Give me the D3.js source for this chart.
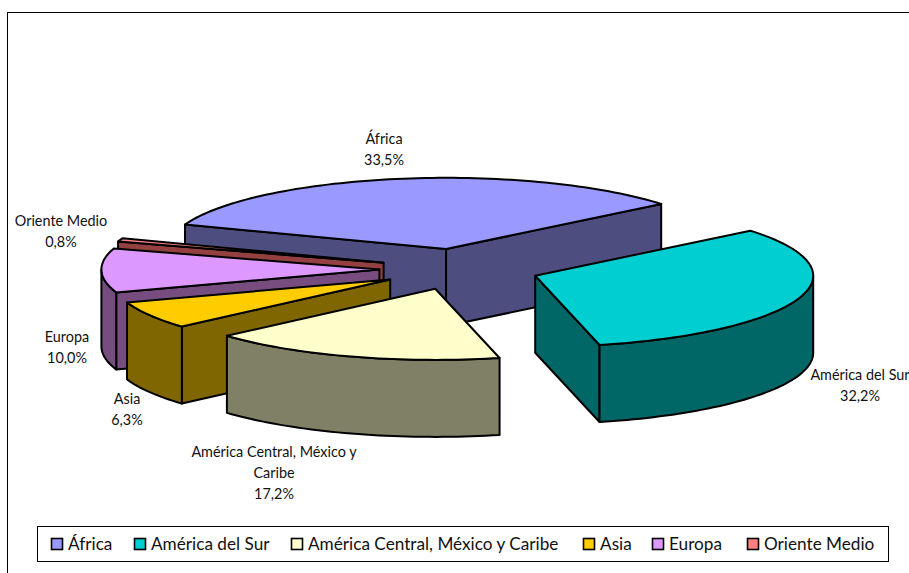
<!DOCTYPE html>
<html><head><meta charset="utf-8">
<style>html,body{margin:0;padding:0;background:#fff;overflow:hidden}svg{display:block}text{font-family:Lato,"Open Sans",sans-serif;fill:#111}</style>
<script src="https://cdn.jsdelivr.net/npm/d3@7/dist/d3.min.js"></script></head>
<body><svg id="c" width="909" height="573"></svg>
<script>
const categories = ["África","América del Sur","América Central, México y Caribe","Asia","Europa","Oriente Medio"];
const values = [33.5,32.2,17.2,6.3,10.0,0.8];
const topColors = ["#9999FF","#00CED1","#FFFFCC","#FFCC00","#DD99FF","#FF8080"];
const sideColors = ["#4D4D80","#006666","#808066","#806600","#774D80","#944040"];
const drawOrder = [0,1,5,4,3,2];
const labelLines = [["África","33,5%"],["América del Sur","32,2%"],["América Central, México y","Caribe","17,2%"],["Asia","6,3%"],["Europa","10,0%"],["Oriente Medio","0,8%"]];
const labelAnchors = [[384,144],[860,380],[274,457],[127,404],[67,342],[61,226]];
const legendSwatchX = [51,134,291,583,652,747];

const rad = d => d*Math.PI/180;
const cx=459.4, cy=269.2, R=278, K=0.256, DEPTH=77, EXPLODE=80;
const svg = d3.select("#c");
const slices = d3.pie().sort(null).value(d=>d)
  .startAngle(rad(-69.9)).endAngle(rad(290.1))(values);

const px = d3.scaleLinear().domain([-1,1]).range([-R,R]);
const py = d3.scaleLinear().domain([-1,1]).range([-R*K,R*K]);
const line = d3.line();
svg.append("rect").attr("x",7.5).attr("y",12.5).attr("width",1000).attr("height",1000)
  .attr("fill","#fff").attr("stroke","#000").attr("stroke-width",1);

function samples(a0,a1,ox,oy,dy){
  const n=Math.max(2,Math.ceil((a1-a0)/rad(1.5)));
  return d3.range(n+1).map(i=>{const a=a0+(a1-a0)*i/n;
    return [ox+px(Math.sin(a)),oy+py(-Math.cos(a))+dy];});
}
const pieG = svg.append("g").attr("stroke","#000").attr("stroke-width",2).attr("stroke-linejoin","round");
drawOrder.forEach(i=>{
  const s=slices[i], mid=(s.startAngle+s.endAngle)/2;
  const ox=cx+EXPLODE*Math.sin(mid), oy=cy-EXPLODE*K*Math.cos(mid);
  const g=pieG.append("g");
  const rWall=a=>{const p=samples(a,a,ox,oy,0)[0];
    return line([[ox,oy],p,[p[0],p[1]+DEPTH],[ox,oy+DEPTH]])+"Z";};
  // radial cut faces: only those turned towards the viewer
  if(Math.cos(s.startAngle-Math.PI/2)<0) g.append("path").attr("d",rWall(s.startAngle)).attr("fill",sideColors[i]);
  if(Math.cos(s.endAngle+Math.PI/2)<0) g.append("path").attr("d",rWall(s.endAngle)).attr("fill",sideColors[i]);
  // outer wall: front-facing part of the rim only
  const a0=Math.max(s.startAngle,rad(90)), a1=Math.min(s.endAngle,rad(270));
  if(a1>a0){
    const t=samples(a0,a1,ox,oy,0), b=samples(a0,a1,ox,oy,DEPTH).reverse();
    g.append("path").attr("d",line(t.concat(b))+"Z").attr("fill",sideColors[i]);
  }
  g.append("path").attr("d",line([[ox,oy]].concat(samples(s.startAngle,s.endAngle,ox,oy,0)))+"Z").attr("fill",topColors[i]);
});

labelLines.forEach((ls,i)=>{
  const t=svg.append("text").attr("text-anchor","middle").attr("font-size",14.4);
  ls.forEach((l,j)=>t.append("tspan").attr("x",labelAnchors[i][0]).attr("y",labelAnchors[i][1]+j*21).text(l));
});

svg.append("rect").attr("x",37.5).attr("y",526.5).attr("width",851).attr("height",35)
  .attr("fill","#fff").attr("stroke","#000").attr("stroke-width",1);
categories.forEach((c,i)=>{
  svg.append("rect").attr("x",legendSwatchX[i]+.5).attr("y",538.5).attr("width",11).attr("height",11)
    .attr("fill",topColors[i]).attr("stroke","#000").attr("stroke-width",1.6);
  svg.append("text").attr("x",legendSwatchX[i]+17).attr("y",550).attr("font-size",17.2).text(c);
});
</script></body></html>
